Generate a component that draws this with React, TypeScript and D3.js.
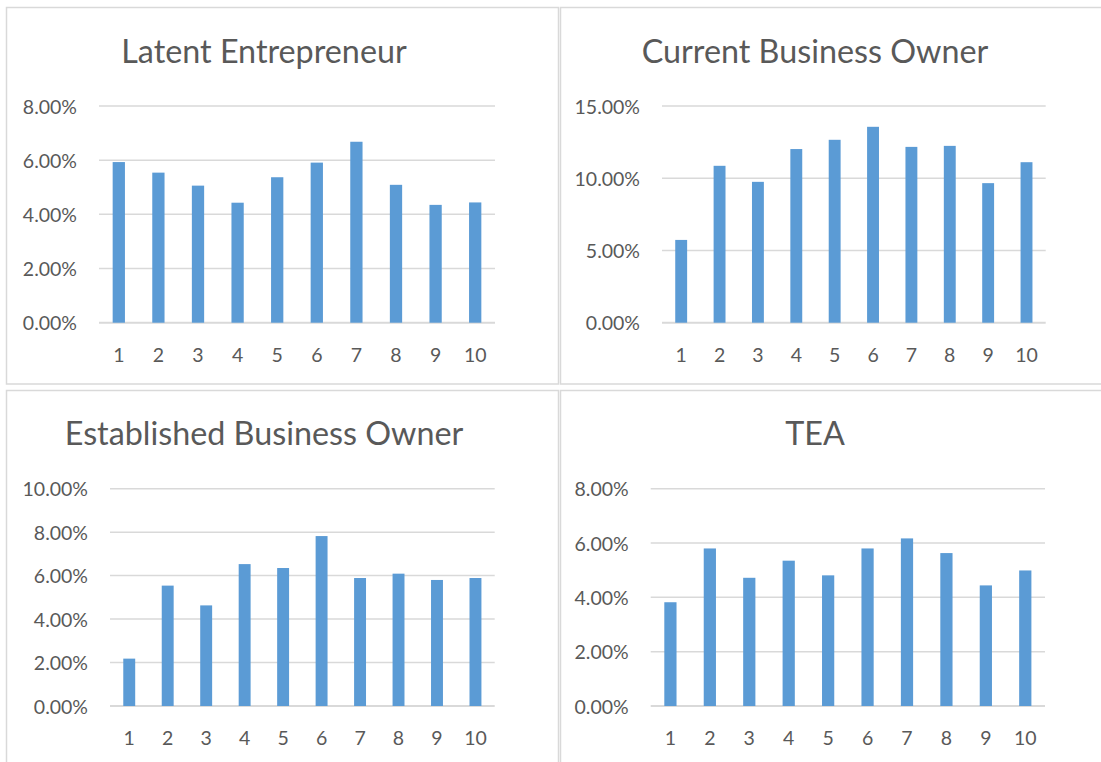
import React from "react";
import * as d3 from "d3";

// categories shared by all four charts
const categories = ["1", "2", "3", "4", "5", "6", "7", "8", "9", "10"];

// values (fractions)
const latentValues = [0.0593, 0.0554, 0.0506, 0.0443, 0.0537, 0.0591, 0.0668, 0.0509, 0.0435, 0.0444];
const currentValues = [0.0573, 0.1086, 0.0975, 0.1202, 0.1266, 0.1356, 0.1217, 0.1224, 0.0966, 0.1111];
const establishedValues = [0.0218, 0.0554, 0.0463, 0.0653, 0.0635, 0.0782, 0.0589, 0.0609, 0.058, 0.0589];
const teaValues = [0.0382, 0.058, 0.0472, 0.0535, 0.0481, 0.058, 0.0617, 0.0563, 0.0444, 0.0499];

const latentTicks = [0, 0.02, 0.04, 0.06, 0.08];
const currentTicks = [0, 0.05, 0.1, 0.15];
const establishedTicks = [0, 0.02, 0.04, 0.06, 0.08, 0.1];
const teaTicks = [0, 0.02, 0.04, 0.06, 0.08];

const BAR = "#5B9BD5";
const GRID = "#D9D9D9";
const TEXT = "#595959";
const FONT = "Lato, 'Open Sans', sans-serif";

interface PanelProps {
  title: string;
  values: number[];
  ticks: number[];
  left: number;
  right: number;
  top: number;
  bottom: number;
  titleX: number;
  titleY: number;
}

const fmt = d3.format(".2%");

const Panel: React.FC<PanelProps> = ({ title, values, ticks, left, right, top, bottom, titleX, titleY }) => {
  const x = d3
    .scaleBand<string>()
    .domain(categories)
    .range([left, right])
    .paddingInner(0.69)
    .paddingOuter(0.345);
  const y = d3
    .scaleLinear()
    .domain([0, d3.max(ticks) as number])
    .range([bottom, top]);

  return (
    <g>
      <text x={titleX} y={titleY} textAnchor="middle" fontSize={32.3} fill={TEXT} fontFamily={FONT}>
        {title}
      </text>
      {ticks.map((t) => (
        <g key={t}>
          <line
            x1={left}
            x2={right}
            y1={y(t)}
            y2={y(t)}
            stroke={GRID}
            strokeWidth={t === 0 ? 2 : 1.5}
          />
          <text
            x={left - 22}
            y={y(t)}
            textAnchor="end"
            dominantBaseline="central"
            fontSize={19.5}
            fill={TEXT}
            fontFamily={FONT}
          >
            {fmt(t)}
          </text>
        </g>
      ))}
      {values.map((v, i) => (
        <rect
          key={categories[i]}
          x={x(categories[i])}
          y={y(v)}
          width={x.bandwidth()}
          height={y(0) - y(v)}
          fill={BAR}
        />
      ))}
      {categories.map((c) => (
        <text
          key={c}
          x={(x(c) as number) + x.bandwidth() / 2}
          y={bottom + 39}
          textAnchor="middle"
          fontSize={19.5}
          fill={TEXT}
          fontFamily={FONT}
        >
          {c}
        </text>
      ))}
    </g>
  );
};

export default function App() {
  return (
    <svg
      width={1101}
      height={762}
      style={{ position: "absolute", left: 0, top: 0, background: "#fff" }}
    >
      <rect width={1101} height={762} fill="#fff" />
      {/* chart frames */}
      <rect x={6.5} y={7.5} width={552} height={376.5} fill="none" stroke={GRID} strokeWidth={1.5} />
      <rect x={560.5} y={7.5} width={600} height={376.5} fill="none" stroke={GRID} strokeWidth={1.5} />
      <rect x={6.5} y={390.5} width={552} height={400} fill="none" stroke={GRID} strokeWidth={1.5} />
      <rect x={560.5} y={390.5} width={600} height={400} fill="none" stroke={GRID} strokeWidth={1.5} />

      <Panel title="Latent Entrepreneur" values={latentValues} ticks={latentTicks}
        left={99} right={495} top={106} bottom={322.7} titleX={264} titleY={63} />
      <Panel title="Current Business Owner" values={currentValues} ticks={currentTicks}
        left={662} right={1045.7} top={106} bottom={322.7} titleX={815} titleY={63} />
      <Panel title="Established Business Owner" values={establishedValues} ticks={establishedTicks}
        left={110} right={494.7} top={488.7} bottom={706} titleX={264} titleY={445} />
      <Panel title="TEA" values={teaValues} ticks={teaTicks}
        left={650.7} right={1045} top={488.7} bottom={706} titleX={815} titleY={445} />
    </svg>
  );
}
